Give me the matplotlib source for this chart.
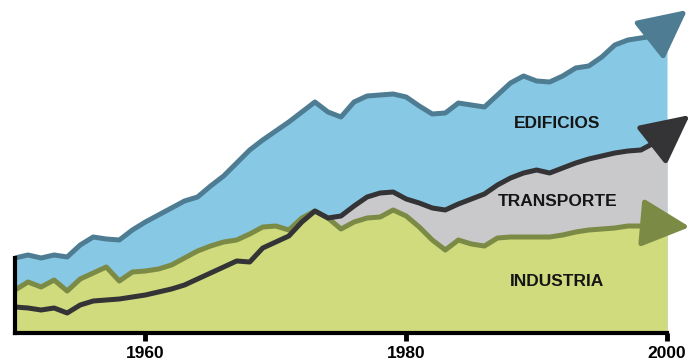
import matplotlib.pyplot as plt

plt.rcParams['font.family'] = ['Liberation Sans', 'DejaVu Sans']

# annual values, 1950-2000 (arbitrary energy units)
years = list(range(1950, 2001))

edificios = [75, 78, 75, 78, 76, 88, 96, 94, 93, 103,
             111, 118, 125, 132, 136, 147, 157, 170, 183, 193,
             202, 211, 221, 231, 221, 216, 231, 237, 238, 239,
             236, 227, 219, 220, 230, 228, 226, 238, 250, 257,
             252, 251, 257, 265, 267, 276, 288, 293, 295, 297,
             307]

transporte = [26, 25, 23, 25, 20, 28, 32, 33, 34, 36,
              38, 41, 44, 48, 54, 60, 66, 72, 71, 85,
              91, 97, 111, 122, 115, 117, 127, 136, 140, 141,
              134, 130, 125, 123, 129, 134, 139, 148, 155, 160,
              163, 160, 165, 170, 174, 177, 180, 182, 183, 190,
              200]

industria = [43, 51, 46, 53, 42, 54, 60, 66, 52, 61,
             62, 64, 68, 75, 82, 87, 91, 93, 99, 106,
             107, 103, 115, 122, 115, 104, 111, 115, 116, 123,
             117, 106, 93, 83, 93, 89, 87, 95, 96, 96,
             96, 96, 98, 101, 103, 104, 105, 107, 107, 107,
             108]

# where each trend arrow points after 2000
tip_years = [2001.55, 2001.75, 2001.75]
tip_values = [323, 218, 106]

names = ['EDIFICIOS', 'TRANSPORTE', 'INDUSTRIA']
series = [edificios, transporte, industria]
fill_colors = ['#87c9e5', '#c9c9cb', '#cfdb7c']
line_colors = ['#4e7d93', '#343436', '#7b8a45']
label_y = [209, 132, 52]

fig = plt.figure(figsize=(6.91, 3.63), dpi=100)
ax = fig.add_axes([15 / 691, 30 / 363, 652 / 691, 333 / 363])

# filled bands: each later layer covers the one below it
for values, fc in zip(series, fill_colors):
    ax.fill_between(years, 0, values, color=fc, linewidth=0)

for values, lc in zip([edificios, industria, transporte],
                      [line_colors[0], line_colors[2], line_colors[1]]):
    ax.plot(years, values, color=lc, linewidth=3.6, solid_joinstyle='round',
            solid_capstyle='round')

for values, lc, tx, ty in zip(series, line_colors, tip_years, tip_values):
    ax.annotate('', xy=(tx, ty), xytext=(years[-1], values[-1]),
                annotation_clip=False,
                arrowprops=dict(arrowstyle='-|>,head_length=30,head_width=15',
                                mutation_scale=1, color=lc, linewidth=3.6,
                                shrinkA=0, shrinkB=0))

for name, ly in zip(names, label_y):
    ax.text(1991.6, ly, name, ha='center', va='center', fontsize=12.5,
            fontweight='bold', color='#151515')

ax.set_xlim(1950, 2000)
ax.set_ylim(0, 333)

for side in ['top', 'right']:
    ax.spines[side].set_visible(False)
ax.spines['bottom'].set_linewidth(3)
ax.spines['left'].set_linewidth(3)
ax.spines['left'].set_bounds(0, edificios[0])

ax.set_yticks([])
ax.set_xticks([1960, 1980, 2000])
ax.tick_params(axis='x', length=6, width=3.5, color='black', pad=3,
               labelsize=12.5)
for lbl in ax.get_xticklabels():
    lbl.set_fontweight('bold')

fig.savefig('out.png', dpi=100)
